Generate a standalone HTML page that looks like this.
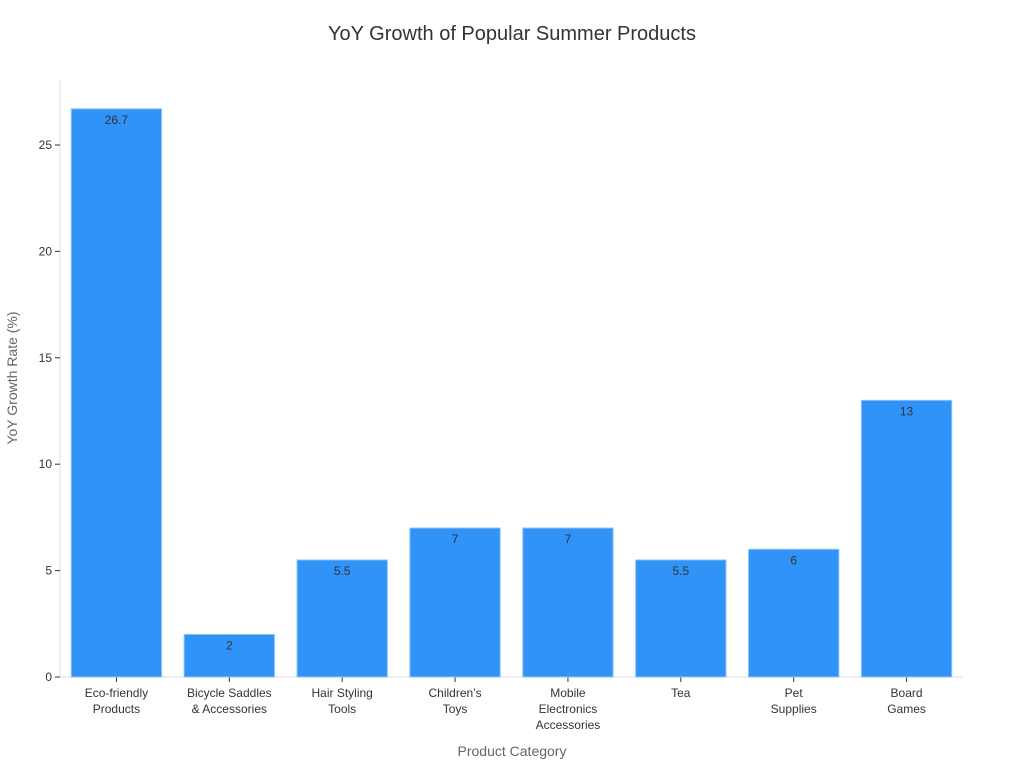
<!DOCTYPE html>
<html><head><meta charset="utf-8"><style>
body{margin:0;background:#fff;font-family:"Liberation Sans","DejaVu Sans",sans-serif;}
svg text{font-family:"Liberation Sans","DejaVu Sans",sans-serif;}
</style></head><body>
<svg id="chart" width="1024" height="768">
<text x="512" y="40" text-anchor="middle" font-size="20" fill="#333">YoY Growth of Popular Summer Products</text>
<g id="axes"></g><g id="bars"></g>
<text x="512" y="756" text-anchor="middle" font-size="14" fill="#666">Product Category</text>
<text transform="translate(17,378) rotate(-90)" text-anchor="middle" font-size="14" fill="#666">YoY Growth Rate (%)</text>
</svg>
<script>
const categories=[["Eco-friendly","Products"],["Bicycle Saddles","& Accessories"],["Hair Styling","Tools"],["Children’s","Toys"],["Mobile","Electronics","Accessories"],["Tea"],["Pet","Supplies"],["Board","Games"]];
const values=[26.7,2,5.5,7,7,5.5,6,13];
const yTicks=[0,5,10,15,20,25];
const NS="http://www.w3.org/2000/svg";
const x0=60,x1=963,yBase=677,pxPerUnit=532/25;
const y=v=>yBase-v*pxPerUnit;
const band=(x1-x0)/categories.length;
const xc=i=>x0+band*(i+0.5);
const axes=document.getElementById('axes'),bars=document.getElementById('bars');
function mk(tag,attrs,parent){const e=document.createElementNS(NS,tag);for(const k in attrs)e.setAttribute(k,attrs[k]);parent.appendChild(e);return e;}
const yl=mk('line',{x1:x0,y1:80,x2:x0,y2:yBase,stroke:'#ddd'},axes);


const xl=mk('line',{x1:x0,y1:yBase,x2:x1,y2:yBase,stroke:'#ddd'},axes);


yTicks.forEach(t=>{
  mk('line',{x1:x0-5,y1:y(t),x2:x0,y2:y(t),stroke:'#333'},axes);
  const tx=mk('text',{x:x0-8,y:y(t)+4,'text-anchor':'end','font-size':12,fill:'#333'},axes);
  tx.textContent=t;
  
  
});
categories.forEach((c,i)=>{
  const w=band*0.8,v=values[i];
  const r=mk('rect',{x:xc(i)-w/2,y:y(v),width:w,height:yBase-y(v),fill:'#2f93f7',stroke:'#8cc3fa','stroke-width':1},bars);
  
  
  const lb=mk('text',{x:xc(i),y:y(v)+15,'text-anchor':'middle','font-size':12,fill:'#333'},bars);
  lb.textContent=v;
  
  
  mk('line',{x1:xc(i),y1:yBase,x2:xc(i),y2:yBase+5,stroke:'#333'},axes);
  c.forEach((ln,j)=>{
    const t=mk('text',{x:xc(i),y:yBase+20+j*16,'text-anchor':'middle','font-size':12,fill:'#333'},axes);
    t.textContent=ln;
    
    
  });
});
</script>
</body></html>
